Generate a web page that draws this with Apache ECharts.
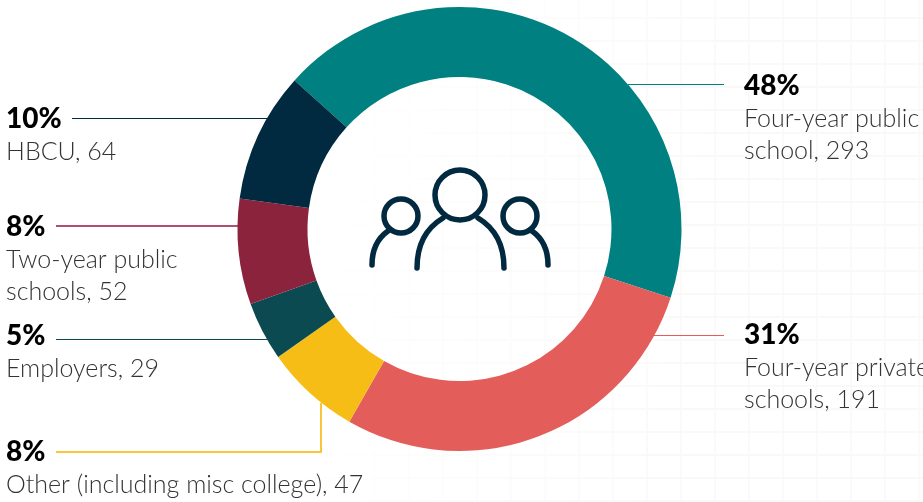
<!DOCTYPE html>
<html>
<head>
<meta charset="utf-8">
<title>Respondents by institution type</title>
<script src="https://cdn.jsdelivr.net/npm/echarts@6/dist/echarts.min.js"></script>
<style>
  html, body { margin: 0; padding: 0; background: #fff; overflow: hidden; }
  #wrap { position: relative; width: 923px; height: 502px; }
  /* faint woven texture behind the chart */
  #texture {
    position: absolute; left: 0; top: 0; width: 923px; height: 502px;
    background-image:
      repeating-linear-gradient(0deg, #f9f9f7 0 2px, transparent 2px 23px),
      repeating-linear-gradient(90deg, #fafaf8 0 2px, transparent 2px 34px);
    -webkit-mask-image: linear-gradient(100deg, transparent 35%, #000 75%);
    mask-image: linear-gradient(100deg, transparent 35%, #000 75%);
  }
  #chart { position: absolute; left: 0; top: 0; width: 923px; height: 502px; }
</style>
</head>
<body>
<div id="wrap">
  <div id="texture"></div>
  <div id="chart"></div>
</div>
<script>
var names = ["Four-year public school", "Four-year private schools", "Other (including misc college)", "Employers", "Two-year public schools", "HBCU"];
var values = [293, 191, 47, 29, 52, 64];
var percents = ["48%", "31%", "8%", "5%", "8%", "10%"];
var textLines = [
  ["Four-year public", "school, 293"],
  ["Four-year private", "schools, 191"],
  ["Other (including misc college), 47"],
  ["Employers, 29"],
  ["Two-year public", "schools, 52"],
  ["HBCU, 64"]
];
var colors = ["#008080", "#e35d5b", "#f7bd17", "#0a4a50", "#8c233d", "#01293f"];
var lineColors = ["#008080", "#e35d5b", "#f9c53a", "#0a4a50", "#b0506c", "#01293f"];
var lineWidths = [1.2, 1.2, 2, 1.2, 2, 1.2];

// label top-left corner and leader line for each slice
var labelPos = [[744, 69], [744, 318], [6, 435], [6, 319], [6, 210], [6, 102]];
var leaders = [
  [[628, 84.5], [724, 84.5]],
  [[653, 335.5], [724, 335.5]],
  [[321, 403], [321, 452], [56, 452]],
  [[272, 339.5], [56, 339.5]],
  [[238, 226], [56, 226]],
  [[268, 118.5], [72, 118.5]]
];

var iconColor = "#01293f";
function iconCurve(x1, y1, cx1, cy1, cx2, cy2, x2, y2) {
  return {
    type: "bezierCurve",
    shape: { x1: x1, y1: y1, cpx1: cx1, cpy1: cy1, cpx2: cx2, cpy2: cy2, x2: x2, y2: y2 },
    style: { fill: "none", stroke: iconColor, lineWidth: 5.5, lineCap: "round" }
  };
}
function iconHead(cx, cy, r) {
  return {
    type: "circle",
    shape: { cx: cx, cy: cy, r: r },
    style: { fill: "none", stroke: iconColor, lineWidth: 5.5 }
  };
}

var myChart = echarts.init(document.getElementById("chart"), null, { renderer: "canvas" });
myChart.setOption({
  animation: false,
  backgroundColor: "transparent",
  series: [
    {
      type: "pie",
      center: [459.5, 229],
      radius: [152, 222],
      startAngle: 138,
      clockwise: true,
      avoidLabelOverlap: false,
      silent: true,
      data: values.map(function (v, i) {
        return {
          name: names[i],
          value: v,
          itemStyle: { color: colors[i] },
          labelLine: { lineStyle: { color: lineColors[i], width: lineWidths[i] } },
          label: {
            formatter: "{p|" + percents[i] + "}\n" + textLines[i].map(function (t) {
              return "{t|" + t + "}";
            }).join("\n")
          }
        };
      }),
      label: {
        show: true,
        position: "outside",
        align: "left",
        rich: {
          p: { fontFamily: "Lato", fontWeight: 900, fontSize: 28, lineHeight: 34, color: "#000" },
          t: { fontFamily: "Lato", fontWeight: 300, fontSize: 25, lineHeight: 32, color: "#333" }
        }
      },
      labelLine: { show: true, smooth: false },
      labelLayout: function (params) {
        var i = params.dataIndex;
        return {
          x: labelPos[i][0],
          y: labelPos[i][1],
          align: "left",
          verticalAlign: "top",
          labelLinePoints: leaders[i]
        };
      }
    }
  ],
  graphic: [
    iconHead(460, 195, 25),
    iconHead(401, 216, 17),
    iconHead(520, 216, 17),
    iconCurve(417, 268, 417, 243, 428, 227, 443, 218),
    iconCurve(504, 268, 504, 243, 493, 227, 478, 218),
    iconCurve(372, 265, 372, 250, 378, 238, 388, 231),
    iconCurve(548, 265, 548, 250, 542, 238, 532, 231)
  ]
});
</script>
</body>
</html>
